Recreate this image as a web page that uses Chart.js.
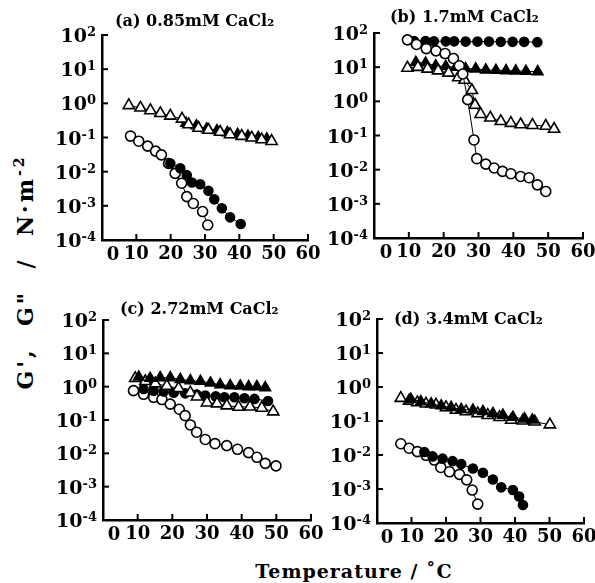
<!DOCTYPE html>
<html>
<head>
<meta charset="utf-8">
<script src="https://cdn.jsdelivr.net/npm/chart.js@4.4.1/dist/chart.umd.min.js"></script>
<style>
  body { margin: 0; background: #fff; }
  #fig { position: relative; width: 595px; height: 583px; background: #fff; overflow: hidden;
         font-family: "DejaVu Serif", serif; font-weight: bold; color: #000; }
  #fig canvas { position: absolute; }
  .ytitle { position: absolute; left: 25px; top: 272px; transform: translate(-50%, -50%) rotate(-90deg);
            white-space: pre; font-size: 22px; letter-spacing: 3px; line-height: 1; }
  .ytitle sup { font-size: 14px; vertical-align: 9px; line-height: 0; }
  .xtitle { position: absolute; left: 354px; top: 571px; transform: translate(-50%, -50%);
            white-space: pre; font-size: 19px; letter-spacing: 1px; }
</style>
</head>
<body>
<div id="fig">
  <div class="ytitle">G',  G"  /  N·m<sup>-2</sup></div>
  <div class="xtitle">Temperature / ˚C</div>
</div>
<script>
// temperature (°C) and modulus (N/m²) for each symbol of each panel
// (a) 0.85 mM CaCl2
const aOpenTriT = [7.8, 11.2, 14.1, 17.0, 19.9, 23.3, 25.2, 28.1, 31.0, 34.4, 37.3, 40.7, 43.6, 46.5, 49.4];
const aOpenTriG = [0.87, 0.74, 0.62, 0.51, 0.43, 0.35, 0.24, 0.19, 0.166, 0.145, 0.123, 0.110, 0.098, 0.087, 0.078];
const aFillTriT = [24.5, 27.5, 30.5, 33.5, 36.5, 39.5, 42.5, 45.5, 48.0];
const aFillTriG = [0.26, 0.22, 0.18, 0.16, 0.138, 0.123, 0.110, 0.100, 0.091];
const aOpenCirT = [8.3, 10.7, 13.3, 15.6, 17.3, 19.4, 21.3, 23.2, 24.7, 26.6, 29.3, 30.8];
const aOpenCirG = [0.11, 0.078, 0.056, 0.040, 0.031, 0.0174, 0.0089, 0.0046, 0.00186, 0.00117, 0.00068, 0.000275];
const aFillCirT = [19.9, 22.8, 24.7, 26.2, 28.6, 31.0, 32.7, 34.9, 37.3, 40.4];
const aFillCirG = [0.0174, 0.0126, 0.0079, 0.0048, 0.0043, 0.00275, 0.00155, 0.00085, 0.00046, 0.000295];

// (b) 1.7 mM CaCl2
const bOpenTriT = [9.6, 12.6, 15.4, 18.4, 21.4, 24.2, 26.0, 28.1, 29.0, 30.6, 33.4, 36.4, 39.3, 42.1, 45.5, 49.3, 51.7];
const bOpenTriG = [9.5, 10, 8.9, 7.9, 6.8, 5.0, 4.2, 2.1, 0.78, 0.42, 0.33, 0.26, 0.23, 0.21, 0.20, 0.19, 0.155];
const bFillTriT = [12.0, 14.8, 17.7, 20.6, 23.5, 26.3, 29.2, 32.1, 35.0, 37.9, 40.7, 43.6, 47.0];
const bFillTriG = [13.8, 13.2, 11, 10.5, 10, 9.1, 8.9, 8.3, 8.1, 7.9, 7.8, 7.6, 7.4];
const bOpenCirT = [9.6, 12.2, 15.0, 17.8, 20.4, 22.8, 24.5, 25.5, 26.9, 28.7, 29.5, 32.1, 34.5, 36.9, 39.3, 42.1, 44.5, 46.9, 49.3];
const bOpenCirG = [63, 46, 35, 30, 25, 18, 11, 6.3, 1.12, 0.074, 0.021, 0.0145, 0.0112, 0.0089, 0.0076, 0.0063, 0.0058, 0.0036, 0.0023];
const bFillCirT = [11.5, 14.8, 17.2, 20.6, 23.0, 26.3, 29.7, 33.0, 36.4, 39.8, 43.1, 46.9];
const bFillCirG = [58, 58, 57, 57, 57, 56, 56, 56, 55, 55, 55, 54];

// (c) 2.72 mM CaCl2
const cOpenTriT = [9.3, 12.2, 15.1, 18.4, 21.8, 25.2, 27.1, 30.0, 32.9, 35.7, 39.1, 42.4, 45.8, 49.1];
const cOpenTriG = [1.78, 1.45, 1.23, 1.05, 0.89, 0.66, 0.50, 0.33, 0.31, 0.27, 0.245, 0.25, 0.23, 0.178];
const cFillTriT = [10.3, 13.6, 16.5, 19.4, 22.3, 25.2, 28.1, 31.0, 33.8, 36.7, 39.6, 42.0, 44.4, 46.8];
const cFillTriG = [1.95, 1.78, 1.86, 1.86, 1.66, 1.51, 1.45, 1.29, 1.15, 1.07, 1.05, 1.0, 1.0, 0.93];
const cOpenCirT = [8.8, 11.7, 14.6, 17.0, 19.4, 22.0, 23.7, 25.2, 27.0, 29.5, 32.3, 35.7, 38.8, 42.0, 44.4, 46.8, 49.9];
const cOpenCirG = [0.76, 0.59, 0.48, 0.41, 0.30, 0.21, 0.135, 0.071, 0.043, 0.026, 0.0195, 0.017, 0.0132, 0.0105, 0.0076, 0.0050, 0.0042];
const cFillCirT = [11.7, 14.6, 17.5, 20.4, 23.7, 27.0, 29.5, 32.5, 35.0, 37.9, 40.8, 43.7, 47.6];
const cFillCirG = [0.85, 0.76, 0.72, 0.66, 0.63, 0.58, 0.54, 0.51, 0.48, 0.48, 0.45, 0.43, 0.37];

// (d) 3.4 mM CaCl2
const dOpenTriT = [6.9, 9.3, 11.7, 14.2, 17.1, 20.0, 22.9, 25.8, 29.2, 32.1, 35.5, 38.9, 42.3, 45.7, 50.1];
const dOpenTriG = [0.47, 0.39, 0.35, 0.32, 0.30, 0.25, 0.21, 0.19, 0.166, 0.148, 0.129, 0.107, 0.102, 0.095, 0.078];
const dFillTriT = [9.8, 12.7, 15.7, 18.6, 21.5, 24.4, 27.8, 30.7, 33.6, 36.5, 39.4, 42.8, 45.0];
const dFillTriG = [0.44, 0.37, 0.32, 0.28, 0.25, 0.22, 0.21, 0.19, 0.166, 0.148, 0.129, 0.115, 0.107];
const dOpenCirT = [6.9, 9.3, 11.7, 14.2, 16.6, 18.5, 21.0, 23.9, 26.0, 27.6, 29.2];
const dOpenCirG = [0.0214, 0.0158, 0.0126, 0.0098, 0.0071, 0.0043, 0.0032, 0.0027, 0.00186, 0.00093, 0.00036];
const dFillCirT = [13.7, 16.1, 19.0, 21.9, 24.4, 27.8, 30.7, 33.6, 36.0, 39.4, 41.2, 42.3];
const dFillCirG = [0.0123, 0.0091, 0.0078, 0.0066, 0.0054, 0.0040, 0.0030, 0.0019, 0.00112, 0.00093, 0.0006, 0.00034];

const xTicks = [0, 10, 20, 30, 40, 50, 60];
const yTicks = [1e-4, 1e-3, 1e-2, 1e-1, 1, 10, 100];

const SERIF = '"DejaVu Serif", serif';
const PAD_L = 60, PAD_R = 16, PAD_T = 32, PAD_B = 32;

const zip = (xs, ys) => xs.map((x, i) => ({ x, y: ys[i] }));

const marker = {
  openCir:  { pointStyle: 'circle',   pointRadius: 5,   pointBackgroundColor: '#fff' },
  fillCir:  { pointStyle: 'circle',   pointRadius: 4.5, pointBackgroundColor: '#000' },
  openTri:  { pointStyle: 'triangle', pointRadius: 6.5, pointBackgroundColor: '#fff' },
  fillTri:  { pointStyle: 'triangle', pointRadius: 6,   pointBackgroundColor: '#000' }
};

// inward ticks, power-of-ten labels, shifted "0" label and the panel caption
const panelDecor = {
  id: 'panelDecor',
  afterDraw(chart, args, opts) {
    const { ctx, chartArea: a, scales: { x, y } } = chart;
    ctx.save();
    ctx.strokeStyle = '#000';
    ctx.fillStyle = '#000';
    ctx.lineWidth = 2;
    yTicks.forEach(v => {
      const py = y.getPixelForValue(v);
      ctx.beginPath(); ctx.moveTo(a.left, py); ctx.lineTo(a.left + 6, py); ctx.stroke();
    });
    xTicks.slice(1).forEach(v => {
      const px = x.getPixelForValue(v);
      ctx.beginPath(); ctx.moveTo(px, a.bottom); ctx.lineTo(px, a.bottom - 6); ctx.stroke();
    });

    // 10 with a raised exponent
    ctx.textAlign = 'left';
    ctx.textBaseline = 'alphabetic';
    yTicks.forEach(v => {
      const py = y.getPixelForValue(v);
      const exp = String(Math.round(Math.log10(v)));
      ctx.font = 'bold 13px ' + SERIF;
      const ew = ctx.measureText(exp).width;
      ctx.font = 'bold 19px ' + SERIF;
      const bw = ctx.measureText('10').width;
      const right = a.left - 6;
      ctx.fillText('10', right - ew - bw, py + 7);
      ctx.font = 'bold 13px ' + SERIF;
      ctx.fillText(exp, right - ew, py + 1);
    });

    ctx.font = 'bold 18px ' + SERIF;
    ctx.textAlign = 'center';
    ctx.textBaseline = 'middle';
    ctx.fillText('0', x.getPixelForValue(0) + opts.zeroDx, a.bottom + 15);
    ctx.font = 'bold 16px ' + SERIF;
    ctx.textAlign = 'left';
    ctx.fillText(opts.title, a.left + opts.dx, a.top + opts.dy);
    ctx.restore();
  }
};

const fig = document.getElementById('fig');

function makePanel(area, caption, series) {
  const canvas = document.createElement('canvas');
  canvas.width = area.right - area.left + PAD_L + PAD_R;
  canvas.height = area.bottom - area.top + PAD_T + PAD_B;
  canvas.style.left = (area.left - PAD_L) + 'px';
  canvas.style.top = (area.top - PAD_T) + 'px';
  fig.appendChild(canvas);

  const axisFont = { family: SERIF, size: 18, weight: 'bold' };
  new Chart(canvas, {
    type: 'scatter',
    data: {
      datasets: series.map(s => Object.assign({
        data: zip(s.t, s.g),
        showLine: true,
        borderColor: '#000',
        borderWidth: 1,
        pointBorderColor: '#000',
        pointBorderWidth: 1.6
      }, marker[s.kind]))
    },
    options: {
      responsive: false,
      animation: false,
      layout: { padding: { left: 0, right: PAD_R, top: PAD_T, bottom: 0 } },
      plugins: {
        legend: { display: false },
        tooltip: { enabled: false },
        panelDecor: caption
      },
      scales: {
        x: {
          type: 'linear', min: 0, max: 60,
          afterBuildTicks: s => { s.ticks = xTicks.map(v => ({ value: v })); },
          afterFit: s => { s.height = PAD_B; s.paddingLeft = 0; s.paddingRight = 0; },
          ticks: { autoSkip: false, maxRotation: 0, padding: 4, color: '#000', font: axisFont,
                   callback: v => (v === 0 ? '' : String(v)) },
          grid: { display: true, drawOnChartArea: false, drawTicks: false },
          border: { display: true, color: '#000', width: 2.5 }
        },
        y: {
          type: 'logarithmic', min: 1e-4, max: 1e2,
          afterBuildTicks: s => { s.ticks = yTicks.map(v => ({ value: v })); },
          afterFit: s => { s.width = PAD_L; s.paddingTop = 0; s.paddingBottom = 0; },
          ticks: { display: false },
          grid: { display: true, drawOnChartArea: false, drawTicks: false },
          border: { display: true, color: '#000', width: 2.5 }
        }
      }
    },
    plugins: [panelDecor]
  });
}

makePanel({ left: 102, top: 35, right: 308, bottom: 240 },
  { title: '(a) 0.85mM CaCl₂', dx: 13, dy: -13, zeroDx: 11 },
  [
    { kind: 'openTri', t: aOpenTriT, g: aOpenTriG },
    { kind: 'fillTri', t: aFillTriT, g: aFillTriG },
    { kind: 'fillCir', t: aFillCirT, g: aFillCirG },
    { kind: 'openCir', t: aOpenCirT, g: aOpenCirG }
  ]);

makePanel({ left: 374, top: 33, right: 583, bottom: 238 },
  { title: '(b) 1.7mM CaCl₂', dx: 16, dy: -15, zeroDx: 12 },
  [
    { kind: 'openCir', t: bOpenCirT, g: bOpenCirG },
    { kind: 'openTri', t: bOpenTriT, g: bOpenTriG },
    { kind: 'fillTri', t: bFillTriT, g: bFillTriG },
    { kind: 'fillCir', t: bFillCirT, g: bFillCirG }
  ]);

makePanel({ left: 103, top: 320, right: 311, bottom: 520 },
  { title: '(c) 2.72mM CaCl₂', dx: 17, dy: -10, zeroDx: 11 },
  [
    { kind: 'fillTri', t: cFillTriT, g: cFillTriG },
    { kind: 'openTri', t: cOpenTriT, g: cOpenTriG },
    { kind: 'fillCir', t: cFillCirT, g: cFillCirG },
    { kind: 'openCir', t: cOpenCirT, g: cOpenCirG }
  ]);

makePanel({ left: 377, top: 319, right: 584, bottom: 523 },
  { title: '(d) 3.4mM CaCl₂', dx: 17, dy: 1, zeroDx: 10 },
  [
    { kind: 'fillTri', t: dFillTriT, g: dFillTriG },
    { kind: 'openTri', t: dOpenTriT, g: dOpenTriG },
    { kind: 'fillCir', t: dFillCirT, g: dFillCirG },
    { kind: 'openCir', t: dOpenCirT, g: dOpenCirG }
  ]);
</script>
</body>
</html>
